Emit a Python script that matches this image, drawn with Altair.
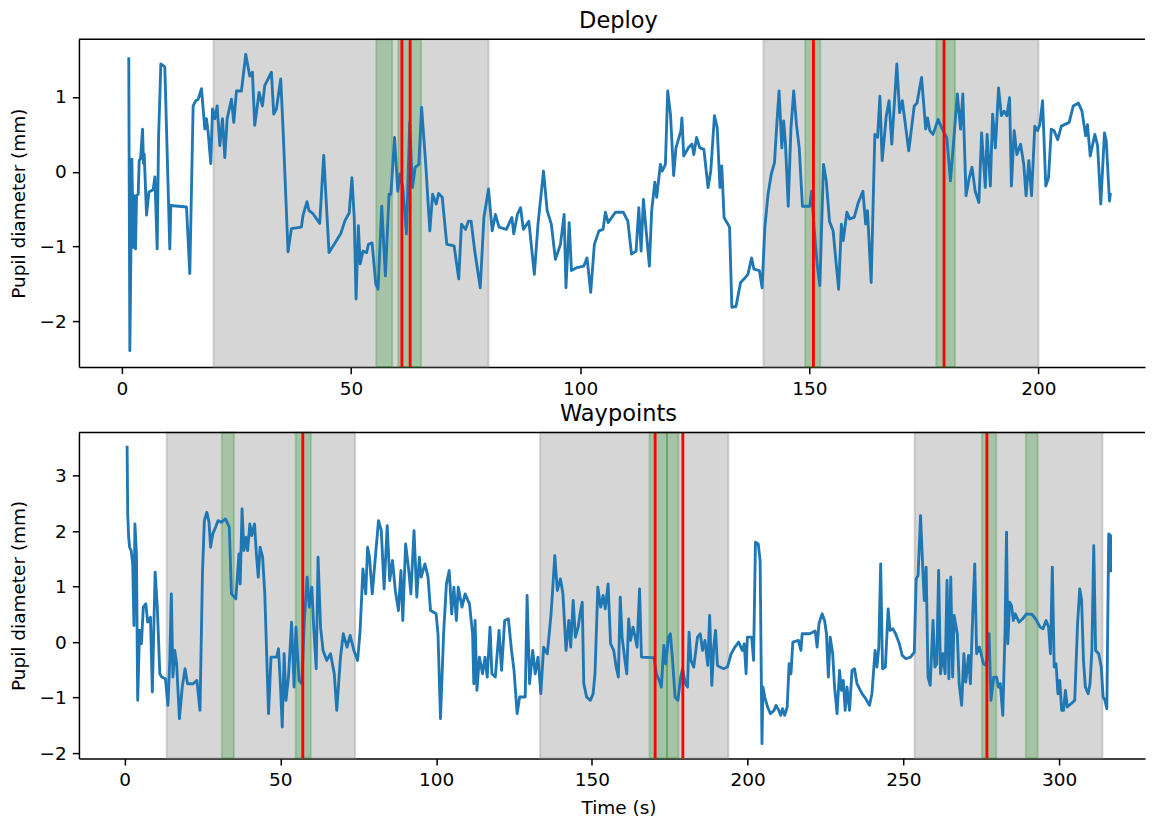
import altair as alt
import pandas as pd

# ---------------- Deploy panel data ----------------
deploy_t = [1.5, 1.74, 2.18, 2.47, 2.76, 2.98, 3.2, 3.56, 3.78, 4.07, 4.51, 4.72, 4.87, 5.38, 5.89, 6.83, 7.2, 7.7, 8.0, 8.5,
            9.0, 9.37, 10.46, 10.68, 14.1, 14.82, 15.55, 16.13, 16.64, 17.37, 18.1, 18.46, 18.82, 19.4, 19.77, 20.28, 20.79,
            21.37, 21.95, 22.46, 22.97, 23.91, 24.42, 25.0, 26.09, 27.03, 27.9, 28.48, 28.99, 29.94, 30.67, 31.17, 32.63,
            33.14, 33.72, 34.66, 35.17, 36.26, 36.99, 39.17, 39.53, 40.4, 40.84, 41.71, 43.17, 44.04, 45.2, 46.5, 47.8,
            48.7, 49.6, 50.2, 50.7, 51.1, 51.6, 52.0, 52.6, 53.4, 53.8, 54.6, 55.4, 55.9, 56.7, 57.5, 58.3, 58.7, 59.5,
            60.2, 60.7, 61.3, 62.1, 62.8, 63.4, 64.0, 64.8, 65.4, 66.3, 67.2, 67.8, 68.6, 69.1, 69.9, 70.9, 72.5, 73.5,
            74.1, 75.0, 75.6, 76.2, 77.0, 78.2, 79.0, 80.0, 80.8, 81.5, 82.3, 83.9, 85.1, 85.5, 86.3, 87.0, 87.6, 88.8,
            90.0, 90.8, 92.0, 92.8, 93.7, 94.6, 95.7, 96.5, 96.9, 97.6, 98.1, 99.3, 100.8, 101.5, 102.3, 103.1, 104.1,
            105.0, 105.5, 106.1, 107.7, 109.4, 110.4, 111.2, 112.2, 112.8, 113.3, 113.8, 114.4, 115.1, 115.6, 116.3,
            116.7, 117.5, 117.9, 118.6, 119.1, 119.7, 120.4, 120.9, 122.0, 122.2, 122.6, 123.6, 124.4, 124.8, 125.4,
            126.1, 127.0, 127.9, 128.5, 129.3, 129.9, 130.5, 130.9, 131.4, 132.6, 133.1, 134.0, 135.0, 135.8, 136.6,
            137.4, 137.9, 139.1, 139.7, 140.3, 141.0, 141.7, 142.4, 142.9, 143.4, 144.0, 144.4, 144.8, 145.4, 146.0,
            146.6, 147.2, 147.8, 148.5, 150.1, 150.5, 151.1, 151.7, 152.3, 153.1, 153.7, 154.4, 155.2, 155.8, 156.4,
            157.0, 157.4, 158.2, 158.8, 159.8, 160.7, 161.7, 162.3, 162.7, 163.5, 164.3, 164.9, 165.4, 165.9, 166.8,
            167.4, 168.0, 169.1, 169.7, 170.3, 171.7, 172.9, 173.5, 174.5, 175.4, 175.8, 176.3, 177.0, 178.1, 179.0,
            180.0, 180.8, 181.5, 182.3, 183.0, 183.5, 184.2, 184.9, 185.5, 186.2, 187.0, 187.6, 188.4, 188.8, 189.5,
            190.0, 190.6, 191.3, 191.9, 192.5, 193.1, 193.7, 194.1, 194.7, 195.3, 196.1, 196.8, 197.3, 197.9, 198.5,
            199.2, 199.8, 200.3, 200.9, 201.6, 202.2, 202.8, 203.4, 204.2, 205.0, 206.7, 207.6, 208.7, 209.5, 210.3,
            210.7, 211.3, 212.3, 212.9, 213.6, 214.4, 214.8, 215.5, 215.7]
deploy_v = [1.53, -2.39, 0.17, -1.01, -0.32, -1.03, -0.32, -0.30, 0.15, 0.17, 0.57, 0.11, 0.24, -0.58, -0.27, -0.24, -0.07,
            -1.03, 0.44, 1.44, 1.42, 1.40, -1.03, -0.45, -0.47, -1.36, 0.88, 0.95, 0.97, 1.11, 0.57, 0.71, 0.53, 0.11,
            0.84, 0.71, 0.88, 0.35, 0.71, 0.19, 0.71, 0.97, 0.66, 1.08, 1.08, 1.57, 1.28, 1.33, 0.62, 1.06, 0.88, 1.15,
            1.33, 0.77, 0.84, 1.24, 0.57, -1.07, -0.76, -0.74, -0.58, -0.40, -0.52, -0.56, -0.69, 0.22, -1.08, -0.95,
            -0.82, -0.65, -0.55, -0.08, -0.61, -1.70, -0.72, -1.23, -1.06, -1.08, -0.97, -0.95, -1.50, -1.57, -0.46,
            -1.39, -0.30, -0.30, 0.46, -0.26, -0.03, -0.21, -0.83, 0.66, -0.21, 0.06, 0.10, 0.86, 0.10, -0.79, -0.30,
            -0.43, -0.29, -0.34, -0.97, -0.99, -1.43, -0.70, -0.77, -0.66, -0.66, -1.06, -1.55, -0.61, -0.23, -0.79,
            -0.57, -0.74, -0.77, -0.61, -0.83, -0.57, -0.48, -0.77, -0.66, -1.37, -0.70, 0.01, -0.52, -0.70, -1.17,
            -0.97, -0.57, -1.55, -0.68, -1.32, -1.28, -1.26, -1.15, -1.61, -0.97, -0.79, -0.77, -0.54, -0.68, -0.54,
            -0.54, -0.66, -1.10, -1.06, -0.48, -1.06, -0.37, -0.79, -1.26, -0.52, -0.14, -0.34, 0.10, 0.01, 0.10, 1.08,
            0.77, -0.05, 0.32, 0.55, 0.72, 0.21, 0.32, 0.37, 0.23, 0.46, 0.32, 0.30, -0.21, 0.01, 0.75, 0.59, -0.21,
            0.08, -0.61, -0.74, -1.81, -1.80, -1.48, -1.43, -1.37, -1.15, -1.30, -1.32, -1.55, -0.74, -0.30, -0.03,
            0.12, 0.63, 1.08, 0.32, 0.68, 0.37, -0.46, 0.59, 1.08, 0.63, 0.32, -0.46, -0.46, -0.26, -0.79, -1.23,
            -1.52, 0.10, -0.12, -0.66, -0.79, -1.19, -1.57, -0.70, -0.92, -0.54, -0.63, -0.61, -0.41, -0.26, -0.70,
            -0.52, -1.48, 0.50, 0.46, 1.01, 0.15, 0.75, 0.95, 0.37, 1.44, 0.79, 0.95, 0.28, 0.88, 0.92, 1.26, 0.57,
            0.72, 0.55, 0.50, 0.70, 0.57, 0.46, -0.12, 0.41, 1.04, 0.57, 1.04, -0.32, -0.08, 0.06, -0.26, -0.41, 0.52,
            -0.21, 0.50, -0.19, 0.77, 0.32, 1.12, 0.75, 0.81, 0.75, 0.99, -0.19, 0.55, 0.23, 0.37, 0.10, -0.32, 0.15,
            -0.32, 0.61, 0.55, 0.63, 0.95, -0.19, -0.08, 0.57, 0.55, 0.43, 0.61, 0.66, 0.88, 0.92, 0.81, 0.48, 0.63,
            0.21, 0.50, 0.35, -0.43, 0.52, 0.41, -0.39, -0.28]
deploy_gray_start = [20, 140]
deploy_gray_end = [80, 200]
deploy_green_start = [55.5, 60.3, 149.1, 177.7]
deploy_green_end = [59.0, 65.3, 152.4, 181.8]
deploy_red = [61.1, 62.9, 150.9, 179.4]
deploy_xticks = [0, 50, 100, 150, 200]
deploy_yticks = [-2, -1, 0, 1]

# ---------------- Waypoints panel data ----------------
waypoints_t = [0.8, 1.0, 1.3, 1.6, 2.1, 2.6, 3.0, 3.3, 3.8, 4.2, 4.8, 5.4, 6.0, 6.8, 7.4, 8.3, 8.9, 9.8, 10.5, 11.3, 11.9,
               13.1, 13.9, 14.5, 15.0, 15.5, 16.1, 16.7, 17.6, 18.5, 19.4, 20.2, 22.0, 23.2, 24.2, 25.0, 25.6, 26.4,
               27.1, 27.6, 28.3, 29.2, 30.0, 31.0, 32.4, 33.6, 34.3, 35.7, 36.7, 37.1, 37.7, 38.3, 39.0, 39.5, 40.2,
               40.8, 41.7, 42.3, 42.9, 43.5, 44.3, 45.0, 46.2, 47.0, 48.8, 49.4, 50.0, 50.6, 51.2, 51.8, 52.6, 53.6,
               54.4, 55.0, 56.0, 56.9, 57.7, 58.6, 59.3, 60.1, 60.7, 61.5, 62.1, 62.9, 63.7, 64.9, 66.1, 67.3, 68.1,
               69.3, 70.2, 71.4, 72.4, 73.6, 74.8, 75.6, 76.5, 77.4, 78.0, 78.6, 79.5, 80.4, 81.5, 82.4, 83.3, 84.3,
               85.1, 86.0, 86.9, 87.9, 88.7, 89.3, 90.2, 91.1, 91.9, 92.9, 93.8, 94.6, 95.2, 96.4, 97.4, 98.2, 100.0,
               100.6, 101.4, 102.4, 103.3, 104.2, 105.0, 105.7, 106.5, 107.1, 108.3, 109.3, 110.7, 111.7, 112.1, 112.5,
               113.1, 113.9, 114.9, 115.7, 116.4, 117.3, 117.9, 119.0, 120.2, 121.0, 122.0, 123.2, 124.2, 125.0, 126.0,
               126.8, 128.6, 129.2, 130.0, 131.0, 131.8, 132.7, 133.6, 134.5, 135.7, 136.9, 138.1, 138.9, 139.9, 140.7,
               141.7, 142.6, 143.2, 144.0, 144.7, 145.6, 146.2, 146.9, 147.4, 148.3, 149.5, 150.4, 151.0, 151.9, 152.8,
               153.6, 154.3, 155.2, 156.0, 157.0, 157.8, 158.5, 159.1, 159.7, 160.6, 161.2, 161.8, 162.4, 163.2, 163.9,
               164.5, 165.3, 165.9, 168.9, 169.9, 170.7, 171.6, 172.3, 173.1, 173.7, 174.6, 175.2, 175.9, 176.7, 177.6,
               178.5, 179.1, 180.0, 180.7, 181.2, 181.8, 182.7, 183.9, 184.8, 185.5, 186.3, 187.2, 187.8, 188.5, 189.1,
               189.7, 190.3, 191.1, 192.3, 193.5, 194.7, 195.9, 197.1, 198.3, 198.9, 199.5, 199.9, 201.3, 201.9, 202.5,
               203.4, 204.0, 204.6, 204.9, 205.5, 206.4, 207.3, 208.5, 209.1, 210.0, 210.6, 211.2, 211.9, 212.7, 213.3,
               213.9, 214.5, 216.3, 217.1, 217.5, 219.9, 221.7, 222.3, 222.9, 223.9, 224.7, 225.3, 225.9, 226.5, 227.3,
               227.9, 228.7, 229.5, 230.1, 230.7, 231.3, 231.9, 232.7, 233.5, 234.3, 235.1, 236.7, 237.9, 239.1, 239.9,
               240.9, 241.5, 242.1, 242.7, 243.3, 244.2, 245.1, 245.7, 246.6, 247.5, 248.7, 249.6, 250.8, 252.3, 253.5,
               254.1, 254.7, 255.5, 256.2, 256.7, 257.3, 257.9, 258.6, 259.5, 260.1, 260.7, 261.3, 261.9, 262.7, 263.4,
               264.0, 264.6, 265.2, 265.8, 266.3, 267.3, 267.9, 268.7, 269.4, 270.0, 270.9, 271.5, 272.3, 272.9, 273.5,
               274.4, 275.7, 276.6, 277.5, 278.1, 279.0, 279.9, 280.5, 281.1, 281.9, 282.6, 283.1, 283.5, 284.1, 284.7,
               285.3, 285.9, 287.1, 288.3, 289.5, 291.3, 292.4, 293.9, 294.8, 295.8, 296.6, 297.2, 297.8, 298.4, 299.0,
               299.6, 300.2, 300.8, 301.4, 302.0, 302.6, 303.8, 305.0, 305.9, 306.6, 307.2, 307.8, 308.4, 309.3, 309.9,
               310.5, 311.1, 311.7, 312.7, 313.5, 314.1, 314.7, 315.3, 315.9, 316.5, 316.5]
waypoints_v = [3.54, 2.31, 1.89, 1.71, 1.65, 1.41, 0.30, 2.13, 1.59, -1.05, 0.21, -0.03, 0.63, 0.69, 0.36, 0.45, -0.90,
               1.26, 0.63, -0.57, -0.63, -0.66, -1.14, -0.33, 0.87, -0.63, -0.15, -0.39, -1.38, -0.81, -0.48, -0.75,
               -0.75, -0.69, -1.23, 1.26, 2.19, 2.34, 2.16, 1.71, 1.95, 2.07, 2.19, 2.16, 2.22, 2.07, 0.87, 0.78, 1.59,
               1.05, 2.40, 1.65, 1.89, 1.65, 2.13, 1.92, 2.13, 1.59, 1.17, 1.71, 1.53, 0.87, -1.29, -0.27, -0.27, -0.12,
               -0.75, -1.53, -0.21, -1.05, -0.63, 0.36, -0.81, 0.27, -0.69, -0.75, 0.39, 1.17, 0.63, 0.99, 0.27, -0.48,
               1.53, 0.27, -0.15, -0.33, -0.21, -0.57, -1.23, -0.27, 0.15, -0.09, 0.12, -0.15, -0.33, 0.21, 1.32, 0.87,
               1.71, 1.53, 0.87, 1.47, 2.19, 2.01, 0.96, 2.10, 1.11, 1.47, 0.93, 0.57, 1.29, 0.39, 1.77, 1.35, 0.87,
               2.01, 0.81, 1.53, 1.17, 1.41, 1.17, 0.57, 0.51, 0.15, -1.38, 0.15, 1.05, 1.29, 0.51, 0.99, 0.39, 0.99,
               0.63, 0.87, 0.69, 0.15, -0.75, 0.39, -0.87, -0.27, -0.57, -0.27, -0.63, 0.27, -0.57, -0.63, 0.21, -0.51,
               0.39, 0.42, -0.15, -0.51, -1.29, -0.99, -0.99, 0.84, -0.75, -0.15, -0.57, -0.27, -0.93, -0.09, -0.21,
               0.51, 1.56, 0.93, 1.14, 0.87, -0.15, 0.39, -0.09, 0.75, 0.09, 0.27, 0.51, 0.72, -0.75, -0.99, -1.05,
               -0.93, -0.57, 0.99, 0.63, 0.84, 0.60, 1.05, -0.03, -0.15, -0.45, -0.63, 0.81, 0.09, -0.33, -0.57, 0.42,
               0.03, 0.27, 0.09, -0.09, 0.96, -0.27, -0.28, -0.28, -0.57, -0.69, -0.81, -0.06, -0.39, 0.09, 0.15, -0.33,
               -0.99, -1.05, -0.63, -0.48, -0.75, -0.81, 0.18, -0.33, -0.45, 0.09, 0.15, -0.15, 0.03, -0.42, 0.48,
               -0.78, -0.09, 0.21, -0.42, -0.45, -0.48, -0.45, -0.21, -0.09, 0.00, -0.15, -0.03, -0.57, 0.09, 0.09,
               -0.33, 1.80, 1.77, 1.47, -1.83, -0.81, -0.99, -1.17, -1.29, -1.23, -1.14, -1.23, -1.32, -1.20, -1.32,
               -1.17, -0.39, -0.57, 0.00, 0.03, -0.15, 0.15, 0.15, 0.20, -0.09, 0.33, 0.51, 0.39, 0.15, -0.63, 0.09,
               -0.21, -0.81, -1.29, -0.51, -0.87, -0.69, -1.23, -0.81, -1.23, -0.51, -0.48, -0.75, -0.93, -1.02, -1.14,
               -0.93, -0.15, -0.45, -0.09, 1.41, -0.48, -0.45, 0.60, 0.21, 0.24, 0.15, -0.03, -0.24, -0.30, -0.27, -0.18,
               1.14, 1.20, 2.28, 1.35, 0.75, 1.35, -0.63, -0.78, 0.39, -0.45, -0.39, 1.29, -0.57, -0.21, -0.57, 1.11,
               -0.66, 1.17, -0.63, 0.48, 0.15, -0.75, -1.14, -0.21, -0.72, -0.24, -0.75, 0.57, 1.41, -0.21, -0.09, -0.39,
               -0.42, 0.15, -1.05, -0.63, -0.63, -0.81, -0.75, -1.32, 0.15, 1.98, -0.03, 0.72, 0.66, 0.39, 0.51, 0.36,
               0.42, 0.51, 0.50, 0.42, 0.27, 0.24, 0.39, 0.27, -0.21, 1.35, -0.45, -0.39, -0.93, -0.69, -1.23, -1.23,
               -0.87, -1.17, -1.11, -1.05, 0.33, 0.96, 0.75, -0.33, -0.81, -0.93, -0.75, -0.15, 1.74, -0.15, -0.21, -0.45,
               -0.99, -1.05, -1.20, 1.95, 1.92, 1.26]
waypoints_gray_start = [13.5, 133.4, 253.6]
waypoints_gray_end = [74.0, 193.8, 313.9]
waypoints_green_start = [31.2, 54.9, 168.5, 174.1, 275.2, 289.3]
waypoints_green_end = [35.1, 59.8, 174.1, 177.8, 279.8, 293.1]
waypoints_red = [57.2, 170.3, 179.2, 276.8]
waypoints_xticks = [0, 50, 100, 150, 200, 250, 300]
waypoints_yticks = [-2, -1, 0, 1, 2, 3]

W = 1067
FONT = "DejaVu Sans"


def panel(title, t, v, gs, ge, ns, ne, reds, xdom, xticks, ydom, yticks, H, xtitle, anchor):
    xs = alt.Scale(domain=xdom, nice=False, zero=False)
    ys = alt.Scale(domain=ydom, nice=False, zero=False)
    line_df = pd.DataFrame({"i": list(range(len(t))), "t": t, "v": v})
    gray_df = pd.DataFrame({"s": gs, "e": ge})
    green_df = pd.DataFrame({"s": ns, "e": ne})
    red_df = pd.DataFrame({"x": reds})
    one = pd.DataFrame({"k": [0]})

    if xtitle:
        xaxis = alt.Axis(values=xticks, title=xtitle, titleX=540, titleY=55, titleBaseline="alphabetic",
                         titleAlign="center")
    else:
        xaxis = alt.Axis(values=xticks, title=None)
    yaxis = alt.Axis(values=yticks, title="Pupil diameter (mm)", titleX=-60, titleBaseline="middle")

    gray = alt.Chart(gray_df).mark_rect(
        fill="#808080", fillOpacity=0.32, stroke="#808080", strokeOpacity=0.32, strokeWidth=1.9
    ).encode(x=alt.X("s:Q", scale=xs, axis=xaxis), x2="e:Q", y=alt.value(0), y2=alt.value(H))
    green = alt.Chart(green_df).mark_rect(
        fill="#008000", fillOpacity=0.22, stroke="#008000", strokeOpacity=0.22, strokeWidth=1.9
    ).encode(x=alt.X("s:Q", scale=xs, axis=xaxis), x2="e:Q", y=alt.value(0), y2=alt.value(H))
    line = alt.Chart(line_df).mark_line(color="#1f77b4", strokeWidth=2.85, strokeJoin="round").encode(
        x=alt.X("t:Q", scale=xs, axis=xaxis),
        y=alt.Y("v:Q", scale=ys, axis=yaxis),
        order=alt.Order("i:Q"),
    )
    red = alt.Chart(red_df).mark_rule(color="red", strokeWidth=2.85).encode(
        x=alt.X("x:Q", scale=xs, axis=xaxis)
    )
    border = alt.Chart(one).mark_rule(color="black", strokeWidth=1.5).encode(
        x=alt.value(0), x2=alt.value(W), y=alt.value(0)
    )
    ttl = alt.Chart(one).mark_text(
        text=title, font=FONT, fontSize=22.5, color="black", align="center", baseline="alphabetic"
    ).encode(x=alt.value(W / 2 + 6.5), y=alt.value(-11.4))
    layers = [gray, green, line, red, border, ttl]
    if anchor:
        pin = alt.Chart(one).mark_rule(strokeWidth=0.01, strokeOpacity=0).encode(
            x=alt.value(-71), x2=alt.value(-71), y=alt.value(-30.3), y2=alt.value(-30.3)
        )
        layers.append(pin)
    return alt.layer(*layers).properties(width=W, height=H)


top = panel("Deploy", deploy_t, deploy_v, deploy_gray_start, deploy_gray_end, deploy_green_start, deploy_green_end,
            deploy_red, [-9.37, 223.25], deploy_xticks, [-2.609, 1.770], deploy_yticks, 328, None, True)
bottom = panel("Waypoints", waypoints_t, waypoints_v, waypoints_gray_start, waypoints_gray_end, waypoints_green_start,
               waypoints_green_end, waypoints_red, [-14.66, 327.55], waypoints_xticks, [-2.096, 3.78],
               waypoints_yticks, 326.3, "Time (s)", False)

chart = alt.vconcat(top, bottom, spacing=65.4, bounds="flush").properties(
    padding=0, background="white"
).configure_view(
    stroke=None
).configure_axis(
    grid=False,
    domainColor="black",
    domainWidth=1.5,
    tickColor="black",
    tickWidth=1.5,
    tickSize=6.6,
    labelFont=FONT,
    labelFontSize=18.5,
    labelColor="black",
    labelPadding=6,
    labelFlush=False,
    labelOverlap=False,
    titleFont=FONT,
    titleFontSize=18.5,
    titleFontWeight="normal",
    titleColor="black",
)

chart.save("out.html", embed_options={"renderer": "svg", "actions": False})
